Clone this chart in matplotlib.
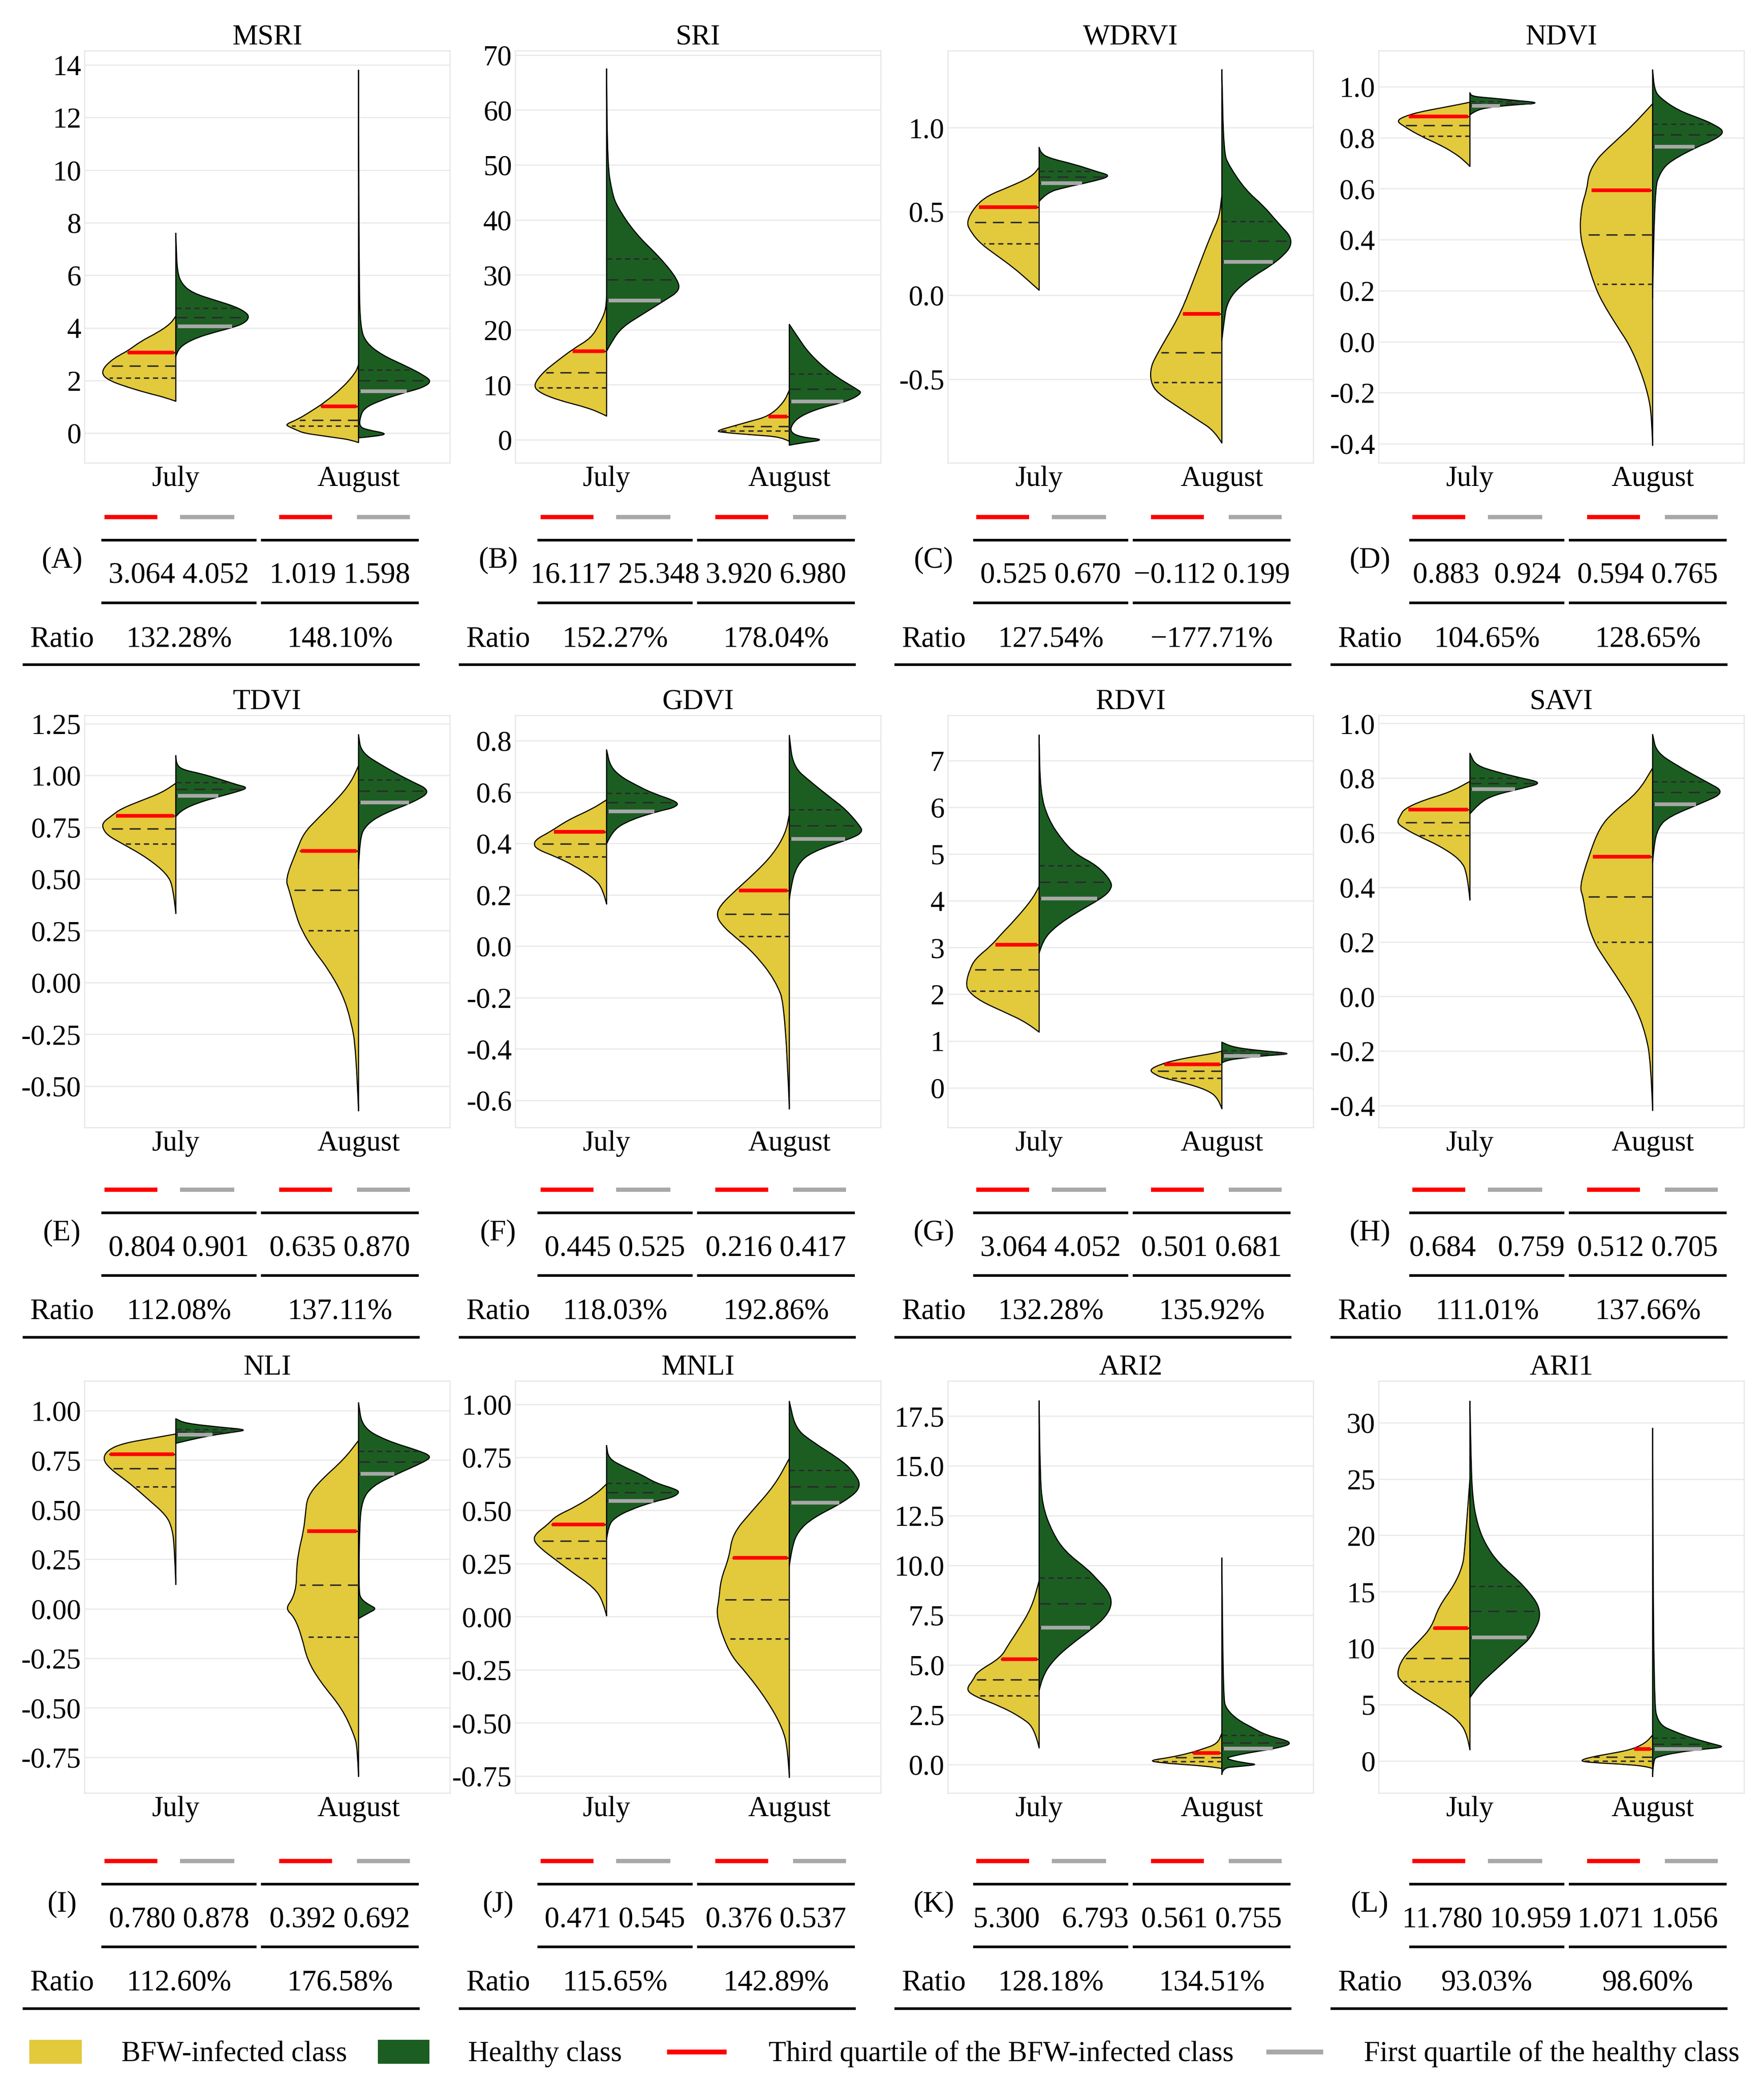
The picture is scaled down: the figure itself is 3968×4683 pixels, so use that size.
import glob
import numpy as np
import matplotlib
matplotlib.use("Agg")
import matplotlib.pyplot as plt
from matplotlib import font_manager as fm
from matplotlib.path import Path
from matplotlib.patches import PathPatch, Rectangle
from matplotlib.lines import Line2D

# locate a Times-like serif font
serif_name = None
for pat in ["/usr/share/fonts/**/LiberationSerif-Regular.ttf",
            "/usr/share/fonts/**/Liberation*Serif*Regular*.ttf",
            "/usr/local/share/fonts/**/LiberationSerif-Regular.ttf",
            "/usr/share/fonts/**/Tinos-Regular.ttf"]:
    hits = glob.glob(pat, recursive=True)
    if hits:
        fm.fontManager.addfont(hits[0])
        serif_name = fm.FontProperties(fname=hits[0]).get_name()
        break
if serif_name is None:
    for f in fm.fontManager.ttflist:
        if "Liberation Serif" in f.name or "Times" in f.name or "Tinos" in f.name:
            serif_name = f.name
            break
if serif_name is None:
    serif_name = "DejaVu Serif"
plt.rcParams['font.family'] = [serif_name, 'DejaVu Serif']
plt.rcParams['axes.unicode_minus'] = False

# ---------------- data ----------------
indices = ["MSRI", "SRI", "WDRVI", "NDVI", "TDVI", "GDVI", "RDVI", "SAVI",
           "NLI", "MNLI", "ARI2", "ARI1"]
letters = ["(A)", "(B)", "(C)", "(D)", "(E)", "(F)", "(G)", "(H)",
           "(I)", "(J)", "(K)", "(L)"]
months = ["July", "August"]
legend_labels = ["BFW-infected class", "Healthy class",
                 "Third quartile of the BFW-infected class",
                 "First quartile of the healthy class"]

ylims = [(-1.13, 14.54), (-4.2, 70.8), (-1.0, 1.46), (-0.475, 1.141),
         (-0.70, 1.29), (-0.706, 0.899), (-0.85, 7.97), (-0.48, 1.03),
         (-0.93, 1.15), (-0.83, 1.11), (-1.43, 19.27), (-2.85, 33.7)]
yticks = [[0, 2, 4, 6, 8, 10, 12, 14],
          [0, 10, 20, 30, 40, 50, 60, 70],
          [-0.5, 0.0, 0.5, 1.0],
          [-0.4, -0.2, 0.0, 0.2, 0.4, 0.6, 0.8, 1.0],
          [-0.5, -0.25, 0.0, 0.25, 0.5, 0.75, 1.0, 1.25],
          [-0.6, -0.4, -0.2, 0.0, 0.2, 0.4, 0.6, 0.8],
          [0, 1, 2, 3, 4, 5, 6, 7],
          [-0.4, -0.2, 0.0, 0.2, 0.4, 0.6, 0.8, 1.0],
          [-0.75, -0.5, -0.25, 0.0, 0.25, 0.5, 0.75, 1.0],
          [-0.75, -0.5, -0.25, 0.0, 0.25, 0.5, 0.75, 1.0],
          [0.0, 2.5, 5.0, 7.5, 10.0, 12.5, 15.0, 17.5],
          [0, 5, 10, 15, 20, 25, 30]]
ytick_decimals = [0, 0, 1, 1, 2, 1, 0, 1, 2, 2, 1, 0]

# half-violin outlines: (value, half width)
A_july_bfw = [(4.45, 0), (4.15, 0.03), (3.82, 0.10), (3.50, 0.19), (3.14, 0.26), (2.96, 0.31), (2.73, 0.36), (2.43, 0.40), (2.19, 0.40), (1.99, 0.36), (1.78, 0.28), (1.52, 0.155), (1.36, 0.06), (1.21, 0)]
A_july_h = [(7.6, 0), (7.0, 0.003), (6.16, 0.008), (5.69, 0.03), (5.33, 0.09), (5.04, 0.22), (4.80, 0.33), (4.56, 0.39), (4.39, 0.40), (4.21, 0.38), (4.05, 0.33), (3.85, 0.22), (3.62, 0.11), (3.32, 0.03), (3.02, 0.003), (2.9, 0)]
A_aug_bfw = [(2.6, 0), (2.31, 0.015), (1.78, 0.08), (1.19, 0.18), (0.83, 0.26), (0.53, 0.33), (0.33, 0.40), (0.24, 0.38), (0.12, 0.34), (0.0, 0.30), (-0.1, 0.2), (-0.18, 0.12), (-0.26, 0.04), (-0.36, 0)]
A_aug_h = [(13.8, 0), (5.8, 0.003), (4.03, 0.01), (3.44, 0.04), (2.96, 0.13), (2.55, 0.26), (2.19, 0.36), (1.96, 0.40), (1.72, 0.35), (1.52, 0.24), (1.24, 0.12), (0.95, 0.03), (0.59, 0.008), (0.24, 0.005), (0.12, 0.05), (-0.02, 0.16), (-0.12, 0.10), (-0.18, 0)]

B_july_bfw = [(25.9, 0), (23.4, 0.006), (21.0, 0.04), (18.5, 0.085), (16.6, 0.18), (14.1, 0.28), (12.2, 0.35), (10.0, 0.40), (8.7, 0.375), (7.25, 0.27), (5.8, 0.10), (4.56, 0.014), (4.3, 0)]
B_july_h = [(67.5, 0), (50.0, 0.005), (45.0, 0.03), (42.5, 0.056), (37.6, 0.155), (32.9, 0.30), (29.1, 0.39), (27.1, 0.40), (25.4, 0.32), (22.9, 0.2), (20.5, 0.085), (18.0, 0.03), (16.1, 0)]
B_aug_bfw = [(9.0, 0), (6.8, 0.03), (4.3, 0.11), (3.3, 0.22), (2.45, 0.31), (1.6, 0.40), (1.35, 0.37), (0.88, 0.2), (0.5, 0.04), (-0.3, 0)]
B_aug_h = [(21.0, 0), (19.0, 0.04), (15.6, 0.11), (12.0, 0.23), (9.2, 0.37), (8.5, 0.40), (7.0, 0.32), (5.8, 0.17), (4.3, 0.06), (2.8, 0.014), (1.4, 0.005), (0.5, 0.06), (0.0, 0.2), (-0.6, 0.06), (-1.0, 0)]

C_july_bfw = [(0.764, 0), (0.708, 0.04), (0.644, 0.17), (0.596, 0.28), (0.532, 0.35), (0.436, 0.40), (0.372, 0.37), (0.308, 0.32), (0.244, 0.24), (0.165, 0.14), (0.085, 0.056), (0.03, 0)]
C_july_h = [(0.883, 0), (0.85, 0.01), (0.82, 0.05), (0.78, 0.2), (0.74, 0.31), (0.712, 0.40), (0.676, 0.28), (0.644, 0.14), (0.612, 0.04), (0.56, 0)]
C_aug_bfw = [(0.596, 0), (0.468, 0.014), (0.372, 0.056), (0.133, 0.14), (-0.107, 0.225), (-0.267, 0.31), (-0.343, 0.35), (-0.427, 0.39), (-0.52, 0.39), (-0.586, 0.35), (-0.666, 0.24), (-0.746, 0.13), (-0.81, 0.04), (-0.882, 0)]
C_aug_h = [(1.347, 0), (0.851, 0.01), (0.772, 0.04), (0.628, 0.13), (0.532, 0.23), (0.441, 0.30), (0.324, 0.40), (0.212, 0.32), (0.085, 0.13), (-0.027, 0.03), (-0.187, 0.008), (-0.27, 0)]

D_july_bfw = [(0.939, 0), (0.93, 0.06), (0.915, 0.17), (0.90, 0.28), (0.883, 0.36), (0.866, 0.40), (0.848, 0.37), (0.806, 0.27), (0.774, 0.17), (0.742, 0.09), (0.71, 0.03), (0.687, 0)]
D_july_h = [(0.976, 0), (0.962, 0.01), (0.955, 0.12), (0.948, 0.22), (0.936, 0.40), (0.928, 0.23), (0.917, 0.08), (0.901, 0.02), (0.889, 0)]
D_aug_bfw = [(0.933, 0), (0.848, 0.11), (0.795, 0.19), (0.742, 0.27), (0.71, 0.31), (0.658, 0.35), (0.596, 0.36), (0.53, 0.39), (0.419, 0.40), (0.318, 0.36), (0.226, 0.32), (0.16, 0.28), (0.055, 0.19), (-0.009, 0.13), (-0.105, 0.07), (-0.211, 0.023), (-0.296, 0.005), (-0.407, 0)]
D_aug_h = [(1.066, 0), (0.986, 0.01), (0.954, 0.044), (0.907, 0.14), (0.875, 0.26), (0.854, 0.33), (0.822, 0.40), (0.785, 0.32), (0.766, 0.25), (0.71, 0.10), (0.668, 0.044), (0.594, 0.008), (0.17, 0)]

E_july_bfw = [(0.962, 0), (0.917, 0.076), (0.878, 0.19), (0.839, 0.30), (0.806, 0.35), (0.773, 0.40), (0.743, 0.40), (0.708, 0.37), (0.669, 0.29), (0.604, 0.16), (0.526, 0.05), (0.461, 0.014), (0.333, 0)]
E_july_h = [(1.096, 0), (1.05, 0.005), (1.027, 0.04), (1.008, 0.14), (0.982, 0.24), (0.956, 0.33), (0.940, 0.40), (0.917, 0.32), (0.901, 0.25), (0.865, 0.11), (0.826, 0.02), (0.80, 0)]
E_aug_bfw = [(1.047, 0), (0.969, 0.04), (0.891, 0.11), (0.786, 0.23), (0.721, 0.30), (0.635, 0.34), (0.50, 0.40), (0.447, 0.38), (0.318, 0.34), (0.251, 0.31), (0.161, 0.25), (0.07, 0.17), (-0.06, 0.085), (-0.19, 0.04), (-0.32, 0.014), (-0.62, 0)]
E_aug_h = [(1.197, 0), (1.112, 0.014), (1.047, 0.13), (0.979, 0.27), (0.926, 0.40), (0.874, 0.31), (0.813, 0.13), (0.76, 0.04), (0.695, 0.006), (0.55, 0)]

F_july_bfw = [(0.570, 0), (0.534, 0.08), (0.492, 0.21), (0.445, 0.31), (0.419, 0.38), (0.398, 0.40), (0.377, 0.38), (0.349, 0.28), (0.315, 0.18), (0.263, 0.065), (0.221, 0.02), (0.164, 0)]
F_july_h = [(0.765, 0), (0.70, 0.02), (0.659, 0.08), (0.628, 0.16), (0.596, 0.25), (0.560, 0.40), (0.539, 0.37), (0.527, 0.29), (0.492, 0.13), (0.45, 0.03), (0.398, 0)]
F_aug_bfw = [(0.513, 0), (0.44, 0.02), (0.357, 0.09), (0.284, 0.19), (0.22, 0.29), (0.158, 0.38), (0.117, 0.40), (0.075, 0.36), (0.038, 0.30), (-0.029, 0.19), (-0.133, 0.076), (-0.238, 0.02), (-0.634, 0)]
F_aug_h = [(0.821, 0), (0.70, 0.02), (0.638, 0.12), (0.576, 0.23), (0.532, 0.31), (0.466, 0.39), (0.445, 0.40), (0.422, 0.35), (0.367, 0.12), (0.315, 0.04), (0.23, 0.008), (0.18, 0)]

G_july_bfw = [(4.31, 0), (4.02, 0.04), (3.56, 0.14), (3.28, 0.21), (3.05, 0.26), (2.76, 0.35), (2.53, 0.38), (2.25, 0.40), (2.07, 0.39), (1.85, 0.32), (1.62, 0.19), (1.39, 0.065), (1.19, 0)]
G_july_h = [(7.55, 0), (6.32, 0.006), (5.74, 0.05), (5.28, 0.13), (5.0, 0.20), (4.75, 0.32), (4.40, 0.40), (4.22, 0.39), (4.05, 0.34), (3.74, 0.20), (3.45, 0.09), (3.16, 0.02), (2.88, 0)]
G_aug_bfw = [(0.785, 0), (0.74, 0.04), (0.67, 0.15), (0.585, 0.26), (0.51, 0.33), (0.384, 0.40), (0.27, 0.36), (0.21, 0.32), (0.10, 0.20), (-0.05, 0.08), (-0.22, 0.02), (-0.45, 0)]
G_aug_h = [(0.974, 0), (0.87, 0.06), (0.80, 0.19), (0.73, 0.40), (0.69, 0.25), (0.64, 0.12), (0.585, 0.02), (0.53, 0)]

H_july_bfw = [(0.788, 0), (0.748, 0.11), (0.718, 0.26), (0.687, 0.36), (0.664, 0.38), (0.638, 0.40), (0.62, 0.37), (0.59, 0.29), (0.55, 0.16), (0.50, 0.05), (0.45, 0.014), (0.353, 0)]
H_july_h = [(0.891, 0), (0.847, 0.03), (0.822, 0.15), (0.802, 0.27), (0.783, 0.40), (0.763, 0.29), (0.738, 0.13), (0.708, 0.05), (0.669, 0)]
H_aug_bfw = [(0.837, 0), (0.748, 0.08), (0.679, 0.21), (0.62, 0.29), (0.514, 0.35), (0.402, 0.40), (0.365, 0.38), (0.274, 0.36), (0.20, 0.32), (0.155, 0.28), (0.056, 0.18), (-0.042, 0.09), (-0.14, 0.037), (-0.24, 0.01), (-0.418, 0)]
H_aug_h = [(0.96, 0), (0.896, 0.02), (0.847, 0.13), (0.788, 0.29), (0.748, 0.40), (0.706, 0.26), (0.659, 0.09), (0.62, 0.03), (0.55, 0.006), (0.49, 0)]

I_july_bfw = [(0.882, 0), (0.862, 0.12), (0.835, 0.29), (0.80, 0.375), (0.754, 0.40), (0.707, 0.36), (0.659, 0.29), (0.616, 0.23), (0.551, 0.15), (0.47, 0.05), (0.403, 0.02), (0.32, 0.008), (0.122, 0)]
I_july_h = [(0.959, 0), (0.936, 0.05), (0.916, 0.245), (0.903, 0.40), (0.889, 0.30), (0.876, 0.2), (0.855, 0.09), (0.835, 0)]
I_aug_bfw = [(0.849, 0), (0.754, 0.08), (0.646, 0.21), (0.565, 0.28), (0.484, 0.29), (0.396, 0.30), (0.281, 0.33), (0.186, 0.34), (0.119, 0.34), (0.051, 0.36), (0.0, 0.40), (-0.043, 0.35), (-0.143, 0.31), (-0.26, 0.28), (-0.368, 0.21), (-0.503, 0.09), (-0.638, 0.023), (-0.705, 0.006), (-0.847, 0)]
I_aug_h = [(1.04, 0), (0.916, 0.02), (0.849, 0.15), (0.795, 0.34), (0.768, 0.40), (0.741, 0.36), (0.676, 0.20), (0.619, 0.076), (0.551, 0.02), (0.416, 0.005), (0.10, 0.002), (0.051, 0.01), (0.018, 0.06), (0.0, 0.10), (-0.023, 0.05), (-0.05, 0)]

J_july_bfw = [(0.625, 0), (0.580, 0.054), (0.517, 0.17), (0.473, 0.28), (0.435, 0.32), (0.39, 0.39), (0.356, 0.40), (0.314, 0.35), (0.275, 0.29), (0.213, 0.195), (0.137, 0.068), (0.073, 0.02), (0.004, 0)]
J_july_h = [(0.806, 0), (0.745, 0.01), (0.707, 0.09), (0.669, 0.19), (0.629, 0.27), (0.60, 0.38), (0.584, 0.40), (0.561, 0.36), (0.542, 0.26), (0.504, 0.13), (0.466, 0.045), (0.428, 0.01), (0.365, 0)]
J_aug_bfw = [(0.745, 0), (0.618, 0.08), (0.492, 0.21), (0.39, 0.31), (0.278, 0.33), (0.175, 0.375), (0.081, 0.385), (0.01, 0.40), (-0.104, 0.36), (-0.193, 0.31), (-0.269, 0.23), (-0.396, 0.12), (-0.523, 0.037), (-0.624, 0.008), (-0.757, 0)]
J_aug_h = [(1.014, 0), (0.885, 0.034), (0.821, 0.13), (0.745, 0.27), (0.69, 0.345), (0.611, 0.40), (0.54, 0.30), (0.466, 0.13), (0.403, 0.048), (0.327, 0.014), (0.238, 0)]

K_july_bfw = [(9.23, 0), (7.89, 0.04), (6.68, 0.12), (6.0, 0.17), (5.36, 0.21), (4.66, 0.34), (4.26, 0.36), (3.79, 0.40), (3.45, 0.36), (2.92, 0.21), (2.38, 0.1), (1.84, 0.025), (0.83, 0)]
K_july_h = [(18.27, 0), (14.74, 0.005), (13.0, 0.017), (11.65, 0.073), (10.71, 0.14), (9.77, 0.27), (9.37, 0.31), (8.7, 0.38), (8.09, 0.40), (7.49, 0.37), (6.88, 0.30), (6.01, 0.17), (5.2, 0.073), (4.4, 0.017), (3.72, 0)]
K_aug_bfw = [(1.57, 0), (1.03, 0.025), (0.77, 0.11), (0.59, 0.17), (0.36, 0.28), (0.2, 0.40), (0.09, 0.34), (-0.04, 0.14), (-0.15, 0.025), (-0.2, 0)]
K_aug_h = [(10.38, 0), (3.32, 0.008), (2.78, 0.025), (2.24, 0.087), (1.84, 0.17), (1.48, 0.24), (1.1, 0.40), (0.81, 0.30), (0.63, 0.17), (0.43, 0.06), (0.3, 0.017), (0.09, 0.115), (0.0, 0.205), (-0.1, 0.087), (-0.17, 0.004), (-0.5, 0)]

L_july_bfw = [(25.0, 0), (20.7, 0.02), (18.5, 0.03), (17.3, 0.04), (15.6, 0.085), (13.7, 0.17), (11.85, 0.21), (10.6, 0.28), (9.11, 0.37), (7.77, 0.40), (7.06, 0.38), (5.87, 0.28), (4.67, 0.155), (3.48, 0.056), (2.29, 0.014), (0.98, 0)]
L_july_h = [(31.9, 0), (26.9, 0.006), (23.3, 0.014), (20.9, 0.042), (19.2, 0.085), (17.55, 0.155), (15.5, 0.30), (13.26, 0.40), (11.04, 0.34), (10.0, 0.27), (8.97, 0.2), (7.8, 0.12), (6.58, 0.04), (5.6, 0)]
L_aug_bfw = [(2.29, 0), (1.57, 0.04), (0.98, 0.12), (0.62, 0.24), (0.33, 0.34), (0.02, 0.40), (-0.14, 0.35), (-0.33, 0.12), (-0.57, 0.01), (-0.7, 0)]
L_aug_h = [(29.5, 0), (5.4, 0.006), (3.24, 0.03), (2.53, 0.13), (2.05, 0.21), (1.5, 0.33), (1.22, 0.40), (1.03, 0.27), (0.74, 0.13), (0.38, 0.03), (0.14, 0.003), (-1.4, 0)]

# quartiles drawn in the violins: (Q1, median, Q3)
q_july_bfw = [(2.10, 2.55, 3.064), (9.5, 12.2, 16.117), (0.308, 0.436, 0.525), (0.806, 0.848, 0.883),
              (0.669, 0.743, 0.804), (0.349, 0.398, 0.445), (2.07, 2.53, 3.064), (0.59, 0.638, 0.684),
              (0.616, 0.707, 0.780), (0.275, 0.356, 0.435), (3.45, 4.26, 5.30), (7.06, 9.11, 11.78)]
q_july_h = [(4.052, 4.40, 4.75), (25.348, 29.1, 32.9), (0.670, 0.707, 0.74), (0.924, 0.934, 0.942),
            (0.901, 0.934, 0.966), (0.525, 0.560, 0.596), (4.052, 4.40, 4.75), (0.759, 0.78, 0.80),
            (0.878, 0.893, 0.905), (0.545, 0.584, 0.629), (6.88, 8.09, 9.37), (10.959, 13.26, 15.5)]
q_aug_bfw = [(0.27, 0.5, 1.019), (1.6, 2.45, 4.2), (-0.52, -0.343, -0.112), (0.226, 0.419, 0.594),
             (0.251, 0.447, 0.635), (0.038, 0.125, 0.216), (0.206, 0.355, 0.501), (0.20, 0.365, 0.512),
             (-0.143, 0.119, 0.392), (-0.104, 0.081, 0.278), (0.16, 0.36, 0.59), (0.0, 0.33, 1.071)]
q_aug_h = [(1.598, 2.0, 2.4), (6.98, 9.2, 12.0), (0.199, 0.324, 0.441), (0.765, 0.811, 0.854),
           (0.870, 0.926, 0.979), (0.417, 0.47, 0.532), (0.681, 0.73, 0.80), (0.705, 0.748, 0.788),
           (0.68, 0.741, 0.795), (0.537, 0.611, 0.69), (0.81, 1.1, 1.48), (1.056, 1.5, 2.05)]

# table values: [July BFW Q3, July healthy Q1, August BFW Q3, August healthy Q1]
table_values = [[3.064, 4.052, 1.019, 1.598], [16.117, 25.348, 3.920, 6.980],
                [0.525, 0.670, -0.112, 0.199], [0.883, 0.924, 0.594, 0.765],
                [0.804, 0.901, 0.635, 0.870], [0.445, 0.525, 0.216, 0.417],
                [3.064, 4.052, 0.501, 0.681], [0.684, 0.759, 0.512, 0.705],
                [0.780, 0.878, 0.392, 0.692], [0.471, 0.545, 0.376, 0.537],
                [5.300, 6.793, 0.561, 0.755], [11.780, 10.959, 1.071, 1.056]]
ratios = [[132.28, 148.10], [152.27, 178.04], [127.54, -177.71], [104.65, 128.65],
          [112.08, 137.11], [118.03, 192.86], [132.28, 135.92], [111.01, 137.66],
          [112.60, 176.58], [115.65, 142.89], [128.18, 134.51], [93.03, 98.60]]
# number of spaces between the two values of a month in the table
value_gaps = [[1, 1], [1, 1], [1, 1], [2, 1], [1, 1], [1, 1],
              [1, 1], [3, 1], [1, 1], [1, 1], [3, 1], [1, 1]]

profiles = [
    (A_july_bfw, A_july_h, A_aug_bfw, A_aug_h), (B_july_bfw, B_july_h, B_aug_bfw, B_aug_h),
    (C_july_bfw, C_july_h, C_aug_bfw, C_aug_h), (D_july_bfw, D_july_h, D_aug_bfw, D_aug_h),
    (E_july_bfw, E_july_h, E_aug_bfw, E_aug_h), (F_july_bfw, F_july_h, F_aug_bfw, F_aug_h),
    (G_july_bfw, G_july_h, G_aug_bfw, G_aug_h), (H_july_bfw, H_july_h, H_aug_bfw, H_aug_h),
    (I_july_bfw, I_july_h, I_aug_bfw, I_aug_h), (J_july_bfw, J_july_h, J_aug_bfw, J_aug_h),
    (K_july_bfw, K_july_h, K_aug_bfw, K_aug_h), (L_july_bfw, L_july_h, L_aug_bfw, L_aug_h),
]

# ---------------- style ----------------
YELLOW = "#E3C93C"
GREEN = "#1C5E22"
RED = "#FF0000"
GRAY = "#A8A8A8"
DARK = "#2a2a2a"
FS = 15.5
FS_T = 16

W, H = 3968, 4683
DPI = 300
fig = plt.figure(figsize=(W / DPI, H / DPI), dpi=DPI)
fig.patch.set_facecolor("white")

col_left = [190, 1159, 2132, 3101]
row_top = [114, 1609, 3106]
AX_W, AX_H = 822, 927
table_x0 = [235, 1216, 2196, 3177]
table_rule_y = [1215, 2728, 4238]
seg_july = (-7, 342)
seg_aug = (352, 707)


def fx(x):
    return x / W


def fy(y):
    return 1 - y / H


def fmt_num(v, d=3):
    s = f"{abs(v):.{d}f}"
    return ("\u2212" + s) if v < 0 else s


def half_patch(prof, center, side, color):
    pts = [(center + side * w, y) for (y, w) in prof]
    verts = [pts[0], ((pts[0][0] + pts[1][0]) / 2, (pts[0][1] + pts[1][1]) / 2)]
    codes = [Path.MOVETO, Path.LINETO]
    n = len(pts)
    for i in range(1, n - 1):
        if i == n - 2:
            end = pts[n - 1]
        else:
            end = ((pts[i][0] + pts[i + 1][0]) / 2, (pts[i][1] + pts[i + 1][1]) / 2)
        verts += [pts[i], end]
        codes += [Path.CURVE3, Path.CURVE3]
    verts += [(center, pts[-1][1]), (center, pts[0][1]), (center, pts[0][1])]
    codes += [Path.LINETO, Path.LINETO, Path.CLOSEPOLY]
    return PathPatch(Path(verts, codes), facecolor=color, edgecolor="black",
                     linewidth=0.6, zorder=2, joinstyle="round")


def width_at(prof, q):
    ys = np.array([p[0] for p in prof])[::-1]
    ws = np.array([p[1] for p in prof])[::-1]
    return float(np.interp(q, ys, ws))


MED_DASH = (0, (7.5, 4.5))
Q_DASH = (0, (3.5, 2.6))


def hline(xa, xb, y, color="black", lw=1.4):
    fig.add_artist(Line2D([fx(xa), fx(xb)], [fy(y), fy(y)], color=color,
                          linewidth=lw, solid_capstyle="butt"))


for k, name in enumerate(indices):
    r, c = divmod(k, 4)
    ax = fig.add_axes([fx(col_left[c]), fy(row_top[r] + AX_H), AX_W / W, AX_H / H])
    ax.set_xlim(-0.5, 1.5)
    ax.set_ylim(*ylims[k])
    ax.set_axisbelow(True)
    ax.grid(axis="y", color="#EBEBEB", linewidth=0.7)
    for sp in ax.spines.values():
        sp.set_color("#E6E6E6")
        sp.set_linewidth(0.6)
    ax.set_xticks([0, 1])
    ax.set_xticklabels(months, fontsize=FS)
    ax.set_yticks(yticks[k])
    ax.set_yticklabels([f"{t:.{ytick_decimals[k]}f}" for t in yticks[k]], fontsize=FS)
    ax.tick_params(axis="both", length=0)
    ax.tick_params(axis="x", pad=1.5)
    ax.tick_params(axis="y", pad=1.8)
    ax.text(0.5, 1 + 14 / AX_H, name, transform=ax.transAxes, ha="center",
            va="baseline", fontsize=FS)

    jb, jh, ab, ah = profiles[k]
    quarts = [(jb, q_july_bfw[k], 0, -1, YELLOW), (jh, q_july_h[k], 0, 1, GREEN),
              (ab, q_aug_bfw[k], 1, -1, YELLOW), (ah, q_aug_h[k], 1, 1, GREEN)]
    for prof, q, center, side, color in quarts:
        ax.add_patch(half_patch(prof, center, side, color))
        q1, med, q3 = q
        for val, ls in ((q1, Q_DASH), (med, MED_DASH), (q3, Q_DASH)):
            w = width_at(prof, val) * 0.95
            ax.plot([center, center + side * w], [val, val], color=DARK,
                    linewidth=0.8, linestyle=ls, zorder=3, solid_capstyle="butt")
        if side < 0:
            w = width_at(prof, q3) * 0.93
            ax.plot([center - 0.012, center - w], [q3, q3], color=RED, linewidth=2.0,
                    zorder=4, solid_capstyle="butt")
        else:
            w = width_at(prof, q1) * 0.93
            ax.plot([center + 0.012, center + w], [q1, q1], color=GRAY, linewidth=2.0,
                    zorder=4, solid_capstyle="butt")

    # ---- table below the panel ----
    x0 = table_x0[c]
    ry = table_rule_y[r]
    for (xa, xb), colr in zip([(0, 119), (170, 292), (393, 512), (568, 687)],
                              [RED, GRAY, RED, GRAY]):
        hline(x0 + xa, x0 + xb, ry - 52, colr, 2.3)
    for y in (ry, ry + 141):
        hline(x0 + seg_july[0], x0 + seg_july[1], y)
        hline(x0 + seg_aug[0], x0 + seg_aug[1], y)
    hline(x0 - 184, x0 + 709, ry + 280)
    tv = table_values[k]
    for m, seg in enumerate((seg_july, seg_aug)):
        xc = x0 + (seg[0] + seg[1]) / 2
        txt = fmt_num(tv[2 * m]) + " " * value_gaps[k][m] + fmt_num(tv[2 * m + 1])
        fig.text(fx(xc), fy(ry + 75 + 22), txt, ha="center", va="baseline", fontsize=FS_T)
        fig.text(fx(xc), fy(ry + 218 + 22), fmt_num(ratios[k][m], 2) + "%", ha="center",
                 va="baseline", fontsize=FS_T)
    fig.text(fx(x0 - 96), fy(ry + 218 + 22), "Ratio", ha="center", va="baseline", fontsize=FS_T)
    fig.text(fx(x0 - 96), fy(ry + 40 + 22), letters[k], ha="center", va="baseline",
             fontsize=FS_T)

# ---------------- legend ----------------
leg_y0, leg_y1 = 4588, 4642
fig.add_artist(Rectangle((fx(66), fy(leg_y1)), 118 / W, (leg_y1 - leg_y0) / H,
                         transform=fig.transFigure, facecolor=YELLOW, edgecolor="none"))
fig.add_artist(Rectangle((fx(850), fy(leg_y1)), 116 / W, (leg_y1 - leg_y0) / H,
                         transform=fig.transFigure, facecolor=GREEN, edgecolor="none"))
ly = (leg_y0 + leg_y1) / 2
fig.add_artist(Line2D([fx(1500), fx(1634)], [fy(ly), fy(ly)], color=RED, linewidth=2.6,
                      solid_capstyle="butt"))
fig.add_artist(Line2D([fx(2848), fx(2976)], [fy(ly), fy(ly)], color=GRAY, linewidth=2.6,
                      solid_capstyle="butt"))
for xt, lab in zip([273, 1053, 1729, 3068], legend_labels):
    fig.text(fx(xt), fy(ly + 21), lab, ha="left", va="baseline", fontsize=FS)

fig.savefig("out.png", dpi=DPI, facecolor="white")
